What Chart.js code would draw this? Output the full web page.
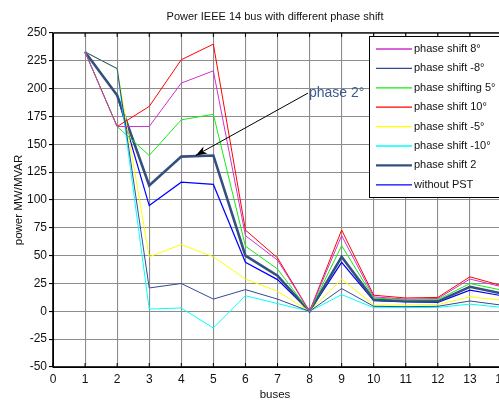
<!DOCTYPE html>
<html lang="en">
<head>
  <meta charset="UTF-8">
  <title>Power IEEE 14 bus with different phase shift</title>
  <script src="https://cdn.jsdelivr.net/npm/chart.js"></script>
  <style>
    html, body {
      margin: 0;
      padding: 0;
      background: #ffffff;
      overflow: hidden;
    }
    canvas {
      display: block;
    }
  </style>
</head>
<body>
  <canvas id="busChart" width="520" height="401"></canvas>

  <script>
    // buses on the x axis
    const buses = [1, 2, 3, 4, 5, 6, 7, 8, 9, 10, 11, 12, 13, 14];

    // power values (MW/MVAR) per case
    const phaseShift8 = [233, 166, 166, 205, 216, 68, 46, 0, 68, 13, 11, 11.5, 29, 22];
    const phaseShiftMinus8 = [233, 218, 21, 25, 11, 19.5, 11, 0, 20.5, 4.5, 4.2, 4.5, 9.3, 5.5];
    const phaseShifting5 = [233, 166, 140, 172, 177, 58.5, 38, 0, 59, 12, 10.2, 10.5, 25, 19];
    const phaseShift10 = [233, 166, 184, 226, 240, 73, 48, 0, 73, 14.5, 12, 12.5, 31, 23];
    const phaseShiftMinus5 = [233, 218, 49, 60, 49, 29, 18, 0, 29, 5.5, 5.7, 6, 13, 10];
    const phaseShiftMinus10 = [233, 218, 2, 3, -15, 14, 7, 0, 15, 3.3, 3.3, 3.5, 6.5, 3.5];
    const phaseShift2 = [233, 194, 113, 139, 140, 50, 32, 0, 49, 10.5, 9.3, 9, 22, 16];
    const withoutPST = [233, 194, 95, 116, 114, 44, 28.5, 0, 44, 9.6, 8.4, 8, 19, 14];

    const seriesNames = ['phase shift 8°', 'phase shift -8°', 'phase shifting 5°', 'phase shift 10°',
      'phase shift -5°', 'phase shift -10°', 'phase shift 2', 'without PST'];
    const seriesValues = [phaseShift8, phaseShiftMinus8, phaseShifting5, phaseShift10,
      phaseShiftMinus5, phaseShiftMinus10, phaseShift2, withoutPST];
    const seriesColors = ['#cc33cc', '#34489a', '#11ee11', '#ff0000', '#ffff00', '#00ffff', '#34507e', '#0000ff'];
    const seriesWidths = [1, 1, 1, 1, 1, 1, 2.6, 1.2];

    const yTicks = [-50, -25, 0, 25, 50, 75, 100, 125, 150, 175, 200, 225, 250];

    // annotation "phase 2°" with an arrow pointing at the phase shift 2 curve
    const noteText = 'phase 2°';
    const noteAt = { x: 7.95, y: 196 };
    const arrowTip = { x: 4.45, y: 140 };

    const font = '"Liberation Sans", Arial, sans-serif';

    const datasets = seriesNames.map((name, i) => ({
      label: name,
      data: buses.map((b, j) => ({ x: b, y: seriesValues[i][j] })),
      borderColor: seriesColors[i],
      backgroundColor: seriesColors[i],
      borderWidth: seriesWidths[i],
      pointRadius: 0,
      tension: 0,
      fill: false
    }));

    const extras = {
      id: 'extras',
      afterDraw(chart) {
        const { ctx, chartArea: a, scales: { x, y } } = chart;
        ctx.save();

        // frame + inward ticks
        ctx.strokeStyle = '#000';
        ctx.lineWidth = 1.3;
        ctx.strokeRect(a.left, a.top, a.right - a.left, a.bottom - a.top);
        ctx.lineWidth = 1;
        for (let v = 0; v <= 14; v++) {
          const px = x.getPixelForValue(v);
          ctx.beginPath();
          ctx.moveTo(px, a.bottom); ctx.lineTo(px, a.bottom - 4);
          ctx.moveTo(px, a.top); ctx.lineTo(px, a.top + 4);
          ctx.stroke();
        }

        // title and axis titles
        ctx.fillStyle = '#111';
        ctx.textAlign = 'center';
        ctx.textBaseline = 'middle';
        ctx.font = '11px ' + font;
        ctx.fillText('Power IEEE 14 bus with different phase shift', 275, 17);
        ctx.font = '11.5px ' + font;
        ctx.fillText('buses', 275, 395);
        ctx.save();
        ctx.translate(19, (a.top + a.bottom) / 2);
        ctx.rotate(-Math.PI / 2);
        ctx.fillText('power MW/MVAR', 0, 0);
        ctx.restore();

        // annotation arrow
        const tx = x.getPixelForValue(noteAt.x), ty = y.getPixelForValue(noteAt.y);
        const hx = x.getPixelForValue(arrowTip.x), hy = y.getPixelForValue(arrowTip.y);
        const ang = Math.atan2(hy - ty, hx - tx);
        ctx.strokeStyle = '#000';
        ctx.lineWidth = 1;
        ctx.beginPath();
        ctx.moveTo(tx, ty);
        ctx.lineTo(hx, hy);
        ctx.stroke();
        ctx.fillStyle = '#000';
        ctx.beginPath();
        ctx.moveTo(hx, hy);
        ctx.lineTo(hx - 12 * Math.cos(ang - 0.35), hy - 12 * Math.sin(ang - 0.35));
        ctx.lineTo(hx - 8 * Math.cos(ang), hy - 8 * Math.sin(ang));
        ctx.lineTo(hx - 12 * Math.cos(ang + 0.35), hy - 12 * Math.sin(ang + 0.35));
        ctx.closePath();
        ctx.fill();
        ctx.fillStyle = '#3f5a8e';
        ctx.font = '14px ' + font;
        ctx.textAlign = 'left';
        ctx.fillText(noteText, tx + 1, ty);

        // legend box
        const lx = 369, ly = 36, lw = 160, lh = 161;
        ctx.fillStyle = '#fff';
        ctx.fillRect(lx, ly, lw, lh);
        ctx.strokeStyle = '#000';
        ctx.lineWidth = 1;
        ctx.strokeRect(lx + 0.5, ly + 0.5, lw, lh);
        ctx.font = '11px ' + font;
        ctx.textAlign = 'left';
        chart.data.datasets.forEach((ds, i) => {
          const ry = 49 + i * 19.4;
          ctx.strokeStyle = ds.borderColor;
          ctx.lineWidth = ds.borderWidth > 2 ? 2.4 : 1.3;
          ctx.beginPath();
          ctx.moveTo(376, ry);
          ctx.lineTo(412, ry);
          ctx.stroke();
          ctx.fillStyle = '#111';
          ctx.fillText(ds.label, 414, ry);
        });
        ctx.restore();
      }
    };

    new Chart(document.getElementById('busChart'), {
      type: 'line',
      data: { datasets },
      options: {
        responsive: false,
        animation: false,
        layout: { padding: { top: 33, right: 18, left: 0, bottom: 0 } },
        plugins: {
          legend: { display: false },
          tooltip: { enabled: false }
        },
        scales: {
          x: {
            type: 'linear',
            min: 0,
            max: 14,
            afterFit: s => { s.height = 34; },
            ticks: {
              stepSize: 1,
              padding: 5,
              color: '#111',
              font: { family: font, size: 12 }
            },
            grid: { color: '#8c8c8c', lineWidth: 1.1, drawTicks: false },
            border: { color: '#000' }
          },
          y: {
            min: -50,
            max: 250,
            afterFit: s => { s.width = 53; },
            afterBuildTicks: s => { s.ticks = yTicks.map(v => ({ value: v })); },
            ticks: {
              padding: 2,
              color: '#111',
              font: { family: font, size: 12 }
            },
            grid: { color: '#8c8c8c', lineWidth: 1.1, tickLength: 4, tickColor: '#000' },
            border: { color: '#000' }
          }
        }
      },
      plugins: [extras]
    });
  </script>
</body>
</html>
